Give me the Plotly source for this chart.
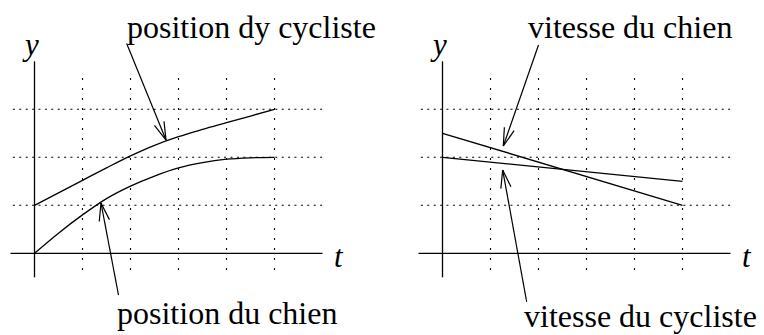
import numpy as np
import plotly.graph_objects as go

# Sample times and readings for the two position curves (left panel)
t_pos = [0, 0.5, 1, 1.5, 2, 2.5, 3, 3.5, 4, 4.5, 5]
pos_chien = [0, 0.42, 0.80, 1.14, 1.40, 1.61, 1.78, 1.89, 1.96, 1.99, 2.0]
pos_cycliste = [1.0, 1.26, 1.52, 1.78, 2.03, 2.25, 2.43, 2.58, 2.72, 2.86, 3.0]

# Speeds (right panel)
t_vit = [0, 1, 2, 3, 4, 5]
vit_chien = [2.5, 2.2, 1.9, 1.6, 1.3, 1.0]
vit_cycliste = [2.0, 1.9, 1.8, 1.7, 1.6, 1.5]

grid_t = [1, 2, 3, 4, 5]
grid_y = [1, 2, 3]

# Callouts: (text, text x, text y, arrow tail, arrow tip)
callouts_left = [
    ("position dy cycliste", 4.53, 4.71, (1.92, 4.37), (2.74, 2.36)),
    ("position du chien", 4.02, -1.25, (1.75, -0.87), (1.385, 1.05)),
]
callouts_right = [
    ("vitesse du chien", 3.91, 4.71, (2.0, 4.34), (1.267, 2.235)),
    ("vitesse du cycliste", 4.12, -1.31, (1.754, -1.01), (1.254, 1.735)),
]

PX = 48.0  # pixels per data unit, same on both axes
W, H = 764, 335
FONT = "Liberation Serif"
INK = "black"
TEXT_SIZE = 32

fig = go.Figure()


def add_panel(xa, ya, curves, shape, callouts):
    # dotted grid
    gx, gy = [], []
    for g in grid_t:
        gx += [g, g, None]
        gy += [-0.35, 3.7, None]
    fig.add_trace(go.Scatter(x=gx, y=gy, mode="lines", xaxis=xa, yaxis=ya,
                             line=dict(color=INK, width=1.1, dash="2px,8px"),
                             hoverinfo="skip", showlegend=False))
    hx, hy = [], []
    for g in grid_y:
        hx += [-0.45, 6.0, None]
        hy += [g, g, None]
    fig.add_trace(go.Scatter(x=hx, y=hy, mode="lines", xaxis=xa, yaxis=ya,
                             line=dict(color=INK, width=1.1, dash="2px,4.4px"),
                             hoverinfo="skip", showlegend=False))
    # axes
    fig.add_trace(go.Scatter(x=[-0.5, 6.0, None, 0, 0], y=[0, 0, None, -0.5, 4.0],
                             mode="lines", xaxis=xa, yaxis=ya,
                             line=dict(color=INK, width=1.3),
                             hoverinfo="skip", showlegend=False))
    # curves
    for xs, ys in curves:
        fig.add_trace(go.Scatter(x=xs, y=ys, mode="lines", xaxis=xa, yaxis=ya,
                                 line=dict(color=INK, width=1.3, shape=shape),
                                 hoverinfo="skip", showlegend=False))
    # arrows with open heads
    ax_, ay_ = [], []
    head_len, half = 0.39, np.radians(16)
    for _, _, _, tail, tip in callouts:
        tail = np.array(tail)
        tip = np.array(tip)
        d = tail - tip
        d = d / np.linalg.norm(d)
        ax_ += [tail[0], tip[0], None]
        ay_ += [tail[1], tip[1], None]
        for s in (1, -1):
            c, sn = np.cos(s * half), np.sin(s * half)
            r = np.array([c * d[0] - sn * d[1], sn * d[0] + c * d[1]])
            p = tip + head_len * r
            ax_ += [tip[0], p[0], None]
            ay_ += [tip[1], p[1], None]
    fig.add_trace(go.Scatter(x=ax_, y=ay_, mode="lines", xaxis=xa, yaxis=ya,
                             line=dict(color=INK, width=1.2),
                             hoverinfo="skip", showlegend=False))
    xr = "x" if xa == "x" else "x2"
    yr = "y" if ya == "y" else "y2"
    for text, tx, ty, _, _ in callouts:
        fig.add_annotation(x=tx, y=ty, xref=xr, yref=yr, text=text, showarrow=False,
                           xanchor="center", yanchor="middle",
                           font=dict(family=FONT, size=TEXT_SIZE, color=INK))
    fig.add_annotation(x=-0.09, y=4.36, xref=xr, yref=yr, text="<i>y</i>", showarrow=False,
                       xanchor="center", yanchor="middle",
                       font=dict(family=FONT, size=31, color=INK))
    fig.add_annotation(x=6.35, y=-0.06, xref=xr, yref=yr, text="<i>t</i>", showarrow=False,
                       xanchor="center", yanchor="middle",
                       font=dict(family=FONT, size=31, color=INK))


add_panel("x", "y", [(t_pos, pos_cycliste), (t_pos, pos_chien)], "spline", callouts_left)
add_panel("x2", "y2", [(t_vit, vit_chien), (t_vit, vit_cycliste)], "linear", callouts_right)

# axis ranges chosen so that one unit is 48 px on both axes
ox_left, ox_right, oy = 34.5, 442.5, 253.3
half_w = W / 2
y0 = -(H - oy) / PX
y1 = oy / PX
hidden = dict(visible=False, showgrid=False, zeroline=False, fixedrange=True)
fig.update_layout(
    width=W, height=H, margin=dict(l=0, r=0, t=0, b=0),
    paper_bgcolor="white", plot_bgcolor="white",
    xaxis=dict(domain=[0, 0.5], range=[-ox_left / PX, (half_w - ox_left) / PX], **hidden),
    xaxis2=dict(domain=[0.5, 1], range=[-(ox_right - half_w) / PX, (W - ox_right) / PX], **hidden),
    yaxis=dict(domain=[0, 1], range=[y0, y1], **hidden),
    yaxis2=dict(domain=[0, 1], range=[y0, y1], anchor="x2", **hidden),
    showlegend=False,
)

fig.write_html("out.html")
